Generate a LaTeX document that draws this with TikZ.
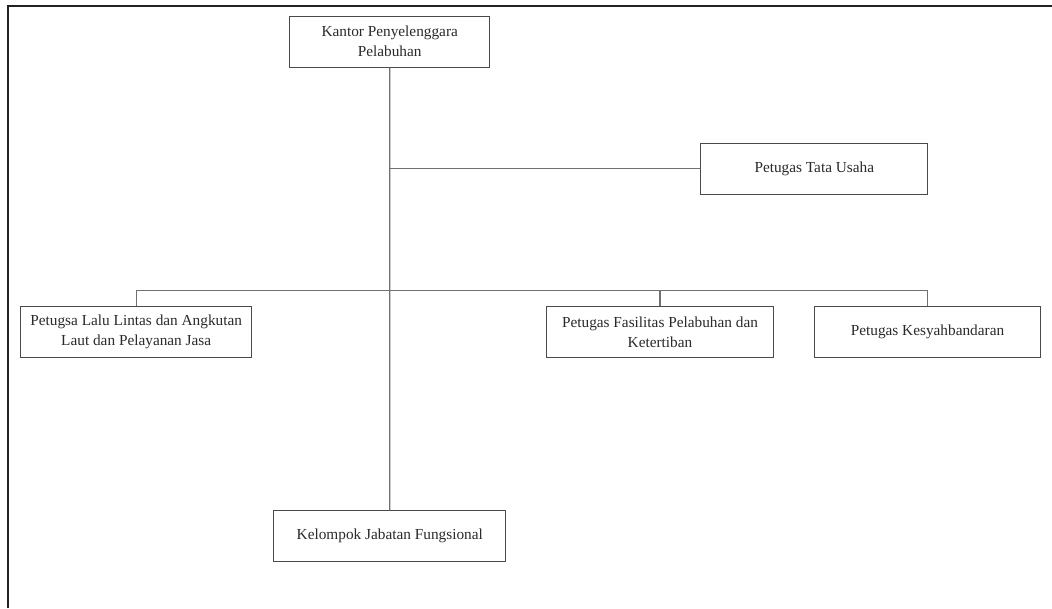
\documentclass[tikz,border=0pt]{standalone}
\usepackage{fontspec}
\setmainfont{Liberation Serif}
\begin{document}
\begin{tikzpicture}[x=1pt,y=1pt,
  orgbox/.style={draw=boxgray, line width=1pt, rectangle, align=center, text=textgray,
     font=\fontsize{15.3}{20}\selectfont, inner sep=0pt, minimum height=51pt},
  conn/.style={draw=linegray, line width=1.2pt}]
\definecolor{boxgray}{HTML}{4A4A4A}
\definecolor{linegray}{HTML}{707070}
\definecolor{textgray}{HTML}{2A2A2A}
\definecolor{framegray}{HTML}{222222}
\useasboundingbox (0,0) rectangle (1052,-608);
\fill[white] (0,0) rectangle (1052,-608);
\draw[framegray, line width=1.6pt] (8,-608) -- (8,-6) -- (1052,-6);

\node[orgbox, minimum width=200.5pt] (kp) at (389.7,-41.5) {Kantor Penyelenggara\\Pelabuhan};
\node[orgbox, minimum width=227.3pt] (tu) at (814.3,-168.5) {Petugas Tata Usaha};
\node[orgbox, minimum width=231pt] (ll) at (136.2,-332.2) {Petugsa Lalu Lintas dan Angkutan\\Laut dan Pelayanan Jasa};
\node[orgbox, minimum width=226.6pt] (ff) at (660,-332.2) {Petugas Fasilitas Pelabuhan dan\\Ketertiban};
\node[orgbox, minimum width=226.4pt] (ks) at (927.5,-332.2) {Petugas Kesyahbandaran};
\node[orgbox, minimum width=231.7pt] (kj) at (389.8,-536.3) {Kelompok Jabatan Fungsional};

\coordinate (tj) at (389.7,-168.5);
\draw[conn] (kp.south) -- (kj.north);
\draw[conn] (tj) -- (tu.west);
\draw[conn] (ll.north) -- ++(0,16) -| (ks.north);
\draw[conn] (ff.north) -- ++(0,16);
\end{tikzpicture}
\end{document}
